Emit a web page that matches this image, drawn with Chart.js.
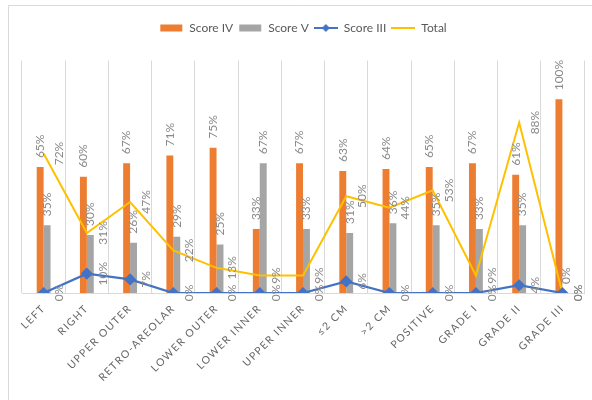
<!DOCTYPE html>
<html>
<head>
<meta charset="utf-8">
<script src="https://cdn.jsdelivr.net/npm/chart.js@4/dist/chart.umd.min.js"></script>
<style>
  html, body { margin: 0; padding: 0; background: #ffffff; }
  #wrap { position: relative; width: 592px; height: 400px; }
</style>
</head>
<body>
<div id="wrap"><canvas id="c" width="592" height="400"></canvas></div>
<script>
const categories = ['LEFT', 'RIGHT', 'UPPER OUTER', 'RETRO-AREOLAR', 'LOWER OUTER', 'LOWER INNER', 'UPPER INNER', '\u22642 CM', '>2 CM', 'POSITIVE', 'GRADE I', 'GRADE II', 'GRADE III'];
const scoreIV  = [65, 60, 67, 71, 75, 33, 67, 63, 64, 65, 67, 61, 100];
const scoreV   = [35, 30, 26, 29, 25, 67, 33, 31, 36, 35, 33, 35, 0];
const scoreIII = [0, 10, 7, 0, 0, 0, 0, 6, 0, 0, 0, 4, 0];
const total    = [72, 31, 47, 22, 13, 9, 9, 50, 44, 53, 9, 88, 0];

const C_ORANGE = '#ED7D31', C_GRAY = '#A5A5A5', C_BLUE = '#4472C4', C_YELLOW = '#FFC000';

function makeIcon(kind, color) {
  const cv = document.createElement('canvas');
  cv.width = 24; cv.height = 10;
  const g = cv.getContext('2d');
  if (kind === 'box') {
    g.fillStyle = color; g.fillRect(1, 1.5, 22, 7);
  } else {
    g.strokeStyle = color; g.lineWidth = 2;
    g.beginPath(); g.moveTo(0, 5); g.lineTo(24, 5); g.stroke();
    if (kind === 'marker') {
      g.fillStyle = color;
      g.beginPath(); g.moveTo(12, 1); g.lineTo(16, 5); g.lineTo(12, 9); g.lineTo(8, 5); g.closePath(); g.fill();
    }
  }
  return cv;
}
const legendIcons = [makeIcon('box', C_ORANGE), makeIcon('box', C_GRAY), makeIcon('marker', C_BLUE), makeIcon('line', C_YELLOW)];

const valueLabels = {
  id: 'valueLabels',
  afterDatasetsDraw(chart) {
    const ctx = chart.ctx;
    ctx.save();
    ctx.font = '12px Lato';
    ctx.fillStyle = '#8a8a8a';
    chart.data.datasets.forEach((ds, i) => {
      const meta = chart.getDatasetMeta(i);
      meta.data.forEach((el, j) => {
        const txt = ds.data[j] + '%';
        const p = el.getProps(['x', 'y'], true);
        ctx.save();
        ctx.textBaseline = 'middle';
        if (meta.type === 'bar') {
          ctx.translate(p.x, p.y - 9);
          ctx.rotate(-Math.PI / 2);
          ctx.textAlign = 'left';
        } else {
          ctx.translate(p.x + 16, p.y);
          ctx.rotate(-Math.PI / 2);
          ctx.textAlign = 'center';
        }
        ctx.fillText(txt, 0, 0);
        ctx.restore();
      });
    });
    ctx.restore();
  }
};

const frameAndSpacing = {
  id: 'frameAndSpacing',
  beforeDraw(chart) {
    const ctx = chart.ctx;
    ctx.save();
    ctx.strokeStyle = '#d9d9d9';
    ctx.lineWidth = 1;
    ctx.beginPath();
    ctx.moveTo(8.5, 400); ctx.lineTo(8.5, 5.5); ctx.lineTo(592, 5.5);
    ctx.stroke();
    ctx.restore();
    const s = chart.scales.x;
    if (s && !s._lsWrapped) {
      const orig = s.drawLabels;
      s.drawLabels = function (a) {
        const c = this.ctx;
        c.save();
        c.letterSpacing = '1.4px';
        orig.call(this, a);
        c.restore();
      };
      s._lsWrapped = true;
    }
  }
};

new Chart(document.getElementById('c'), {
  type: 'bar',
  data: {
    labels: categories,
    datasets: [
      { type: 'bar', label: 'Score IV', data: scoreIV, backgroundColor: C_ORANGE, order: 2, barPercentage: 1, categoryPercentage: 0.32 },
      { type: 'bar', label: 'Score V', data: scoreV, backgroundColor: C_GRAY, order: 2, barPercentage: 1, categoryPercentage: 0.32 },
      { type: 'line', label: 'Score III', data: scoreIII, borderColor: C_BLUE, backgroundColor: C_BLUE, borderWidth: 2.25,
        pointStyle: 'rectRot', pointRadius: 4.5, pointBackgroundColor: C_BLUE, pointBorderColor: C_BLUE, tension: 0, order: 0 },
      { type: 'line', label: 'Total', data: total, borderColor: C_YELLOW, backgroundColor: C_YELLOW, borderWidth: 2,
        pointRadius: 0, tension: 0, order: 1 }
    ]
  },
  options: {
    responsive: false,
    animation: false,
    layout: { padding: { top: 17, left: 22, right: 8, bottom: 0 } },
    plugins: {
      tooltip: { enabled: false },
      legend: {
        position: 'top',
        labels: {
          usePointStyle: true,
          pointStyleWidth: 24,
          boxHeight: 10,
          padding: 5,
          color: '#595959',
          font: { family: 'Lato', size: 12 },
          generateLabels(chart) {
            return chart.data.datasets.map((ds, i) => ({
              text: ds.label, pointStyle: legendIcons[i], fillStyle: 'transparent', strokeStyle: 'transparent',
              lineWidth: 0, hidden: false, datasetIndex: i, fontColor: '#595959'
            }));
          }
        }
      },
      title: { display: true, text: '', weight: 500, font: { size: 1 }, padding: { top: 0, bottom: 15.4 } }
    },
    scales: {
      x: {
        offset: true,
        grid: { display: true, offset: true, color: '#d9d9d9', drawTicks: false },
        border: { display: true, color: '#d9d9d9' },
        ticks: { autoSkip: false, maxRotation: 45, minRotation: 45, padding: 9, color: '#666666', font: { family: 'Lato', size: 10.5 } },
        afterFit(s) { s.height = 107; }
      },
      y: { display: false, min: 0, max: 120 }
    }
  },
  plugins: [valueLabels, frameAndSpacing]
});
</script>
</body>
</html>
